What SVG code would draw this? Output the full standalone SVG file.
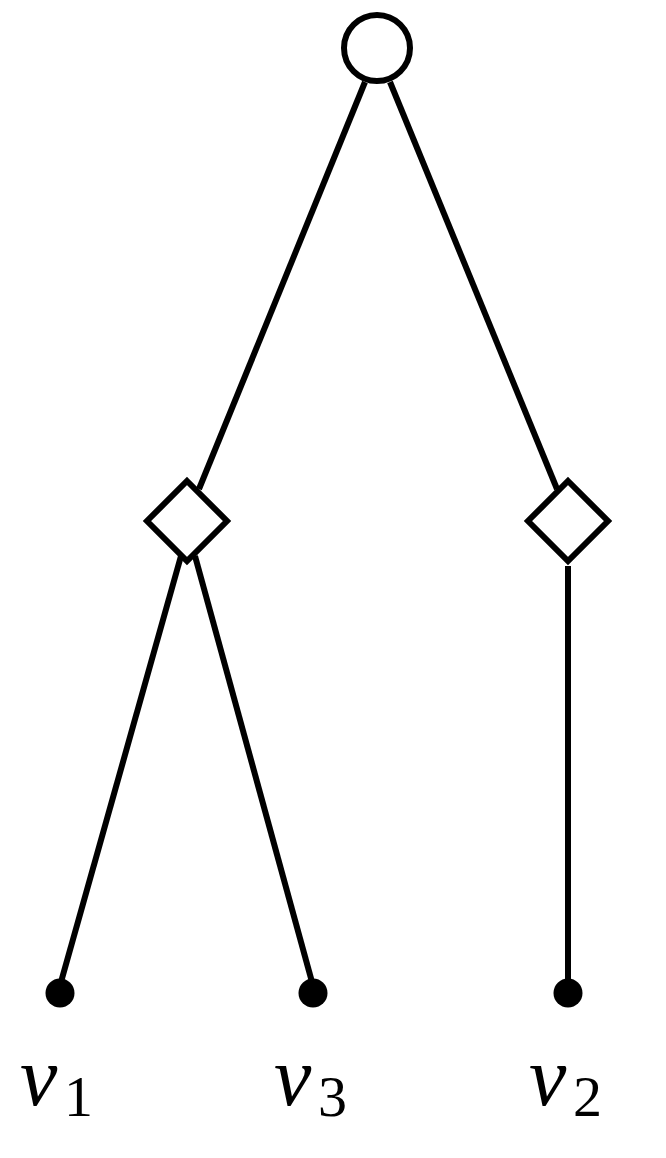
<svg xmlns="http://www.w3.org/2000/svg" width="666" height="1158" viewBox="0 0 666 1158">
<style>
.edge{stroke:#000;stroke-width:6;fill:none}
.node{stroke:#000;stroke-width:6;fill:#fff}
.leaf{fill:#000}
.v{font-family:"Liberation Serif",serif;font-style:italic;font-size:84px;fill:#000}
.s{font-family:"Liberation Serif",serif;font-size:58px;fill:#000}
</style>
<rect width="666" height="1158" fill="#fff"/>
<g id="connectors">
<line class="edge" x1="365" y1="82" x2="199" y2="489"/>
<line class="edge" x1="390" y1="82" x2="557" y2="489"/>
<line class="edge" x1="181" y1="556" x2="61" y2="982"/>
<line class="edge" x1="195" y1="556" x2="312" y2="982"/>
<line class="edge" x1="568" y1="566" x2="568" y2="982"/>
</g>
<g id="root"><circle class="node" cx="377" cy="48" r="33"/></g>
<g id="d1"><polygon class="node" points="187,481 227,521 187,561 147,521"/></g>
<g id="d2"><polygon class="node" points="568,481 608,521 568,561 528,521"/></g>
<g id="leaf1"><circle class="leaf" cx="60" cy="993" r="14.5"/><text class="v" x="20" y="1105">v</text><text class="s" x="64" y="1116">1</text></g>
<g id="leaf3"><circle class="leaf" cx="313" cy="993" r="14.5"/><text class="v" x="274" y="1105">v</text><text class="s" x="318" y="1116">3</text></g>
<g id="leaf2"><circle class="leaf" cx="568" cy="993" r="14.5"/><text class="v" x="529" y="1105">v</text><text class="s" x="573" y="1116">2</text></g>
</svg>
